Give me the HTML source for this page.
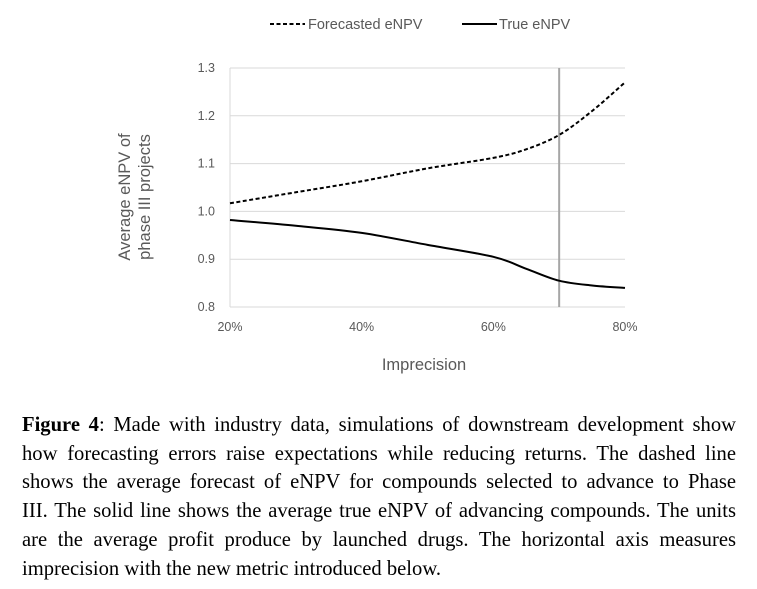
<!DOCTYPE html>
<html><head><meta charset="utf-8"><style>
body{margin:0;background:#fff;width:757px;height:589px;overflow:hidden;position:relative}
svg{position:absolute;left:0;top:0}
#cap{position:absolute;left:22px;top:411px;width:714px;font-family:"Liberation Serif",serif;font-size:20.6px;line-height:28.7px;color:#000}
#cap div{white-space:nowrap;text-align:justify;text-align-last:justify}
#cap div.last{text-align-last:left}
</style></head><body>
<svg id="chart" width="757" height="400"></svg>
<div id="cap">
<div><b>Figure 4</b>: Made with industry data, simulations of downstream development show</div>
<div>how forecasting errors raise expectations while reducing returns. The dashed line</div>
<div>shows the average forecast of eNPV for compounds selected to advance to Phase</div>
<div>III. The solid line shows the average true eNPV of advancing compounds. The units</div>
<div>are the average profit produce by launched drugs. The horizontal axis measures</div>
<div class="last">imprecision with the new metric introduced below.</div>
</div>
<script>
const xs=[20,30,40,50,60,65,70,75,80];
const forecast=[1.017,1.04,1.063,1.09,1.112,1.13,1.16,1.21,1.27];
const trueV=[0.982,0.97,0.955,0.93,0.905,0.88,0.855,0.845,0.84];
const yTicks=[0.8,0.9,1.0,1.1,1.2,1.3];
const xTicks=[20,40,60,80];
const marker=70;
const NS="http://www.w3.org/2000/svg";
const svg=document.getElementById('chart');
const X=v=>230+(v-20)*(395/60);
const Y=v=>307-(v-0.8)*(239/0.5);
function el(t,a,p){const e=document.createElementNS(NS,t);for(const k in a)e.setAttribute(k,a[k]);(p||svg).appendChild(e);return e;}
const F='font-family:"Liberation Sans",sans-serif;';
yTicks.forEach(v=>{
 const g=el('line',{x1:230,x2:625,y1:Y(v),y2:Y(v),stroke:'#d9d9d9','stroke-width':1});
 
 
 const t=el('text',{x:215,y:Y(v)+4,'text-anchor':'end',style:F+'font-size:12.5px;fill:#595959'});t.textContent=v.toFixed(1);
 
 
});
xTicks.forEach(v=>{
 const t=el('text',{x:X(v),y:331,'text-anchor':'middle',style:F+'font-size:12.5px;fill:#595959'});t.textContent=v+'%';
 
 
});
const ax=el('line',{x1:230,x2:230,y1:Y(1.3),y2:307,stroke:'#d9d9d9'});


const ml=el('line',{x1:X(marker),x2:X(marker),y1:Y(1.3),y2:307,stroke:'#a6a6a6','stroke-width':2});


function path(vals){
 const p=xs.map((x,i)=>[X(x),Y(vals[i])]);
 let d='M'+p[0][0]+','+p[0][1];
 for(let i=0;i<p.length-1;i++){
  const p0=p[i-1]||p[i],p1=p[i],p2=p[i+1],p3=p[i+2]||p2;
  const c1=[p1[0]+(p2[0]-p0[0])/6,p1[1]+(p2[1]-p0[1])/6];
  const c2=[p2[0]-(p3[0]-p1[0])/6,p2[1]-(p3[1]-p1[1])/6];
  d+=` C${c1[0]},${c1[1]} ${c2[0]},${c2[1]} ${p2[0]},${p2[1]}`;
 }
 return d;
}
const fl=el('path',{d:path(forecast),fill:'none',stroke:'#000','stroke-width':2,'stroke-dasharray':'4,2.5'});


const tl=el('path',{d:path(trueV),fill:'none',stroke:'#000','stroke-width':2});


const l1=el('line',{x1:270,x2:305,y1:24,y2:24,stroke:'#000','stroke-width':2,'stroke-dasharray':'4,2.5'});


const t1=el('text',{x:308,y:29,style:F+'font-size:14.5px;fill:#595959'});t1.textContent='Forecasted eNPV';


const l2=el('line',{x1:462,x2:497,y1:24,y2:24,stroke:'#000','stroke-width':2});


const t2=el('text',{x:499,y:29,style:F+'font-size:14.5px;fill:#595959'});t2.textContent='True eNPV';


const xt=el('text',{x:424,y:370,'text-anchor':'middle',style:F+'font-size:16.5px;fill:#595959'});xt.textContent='Imprecision';


const yt=el('text',{transform:'translate(130,197) rotate(-90)','text-anchor':'middle',style:F+'font-size:16.5px;fill:#595959'});


const s1=el('tspan',{x:0,dy:0},yt);s1.textContent='Average eNPV of';
const s2=el('tspan',{x:0,dy:20},yt);s2.textContent='phase III projects';
</script>
</body></html>
